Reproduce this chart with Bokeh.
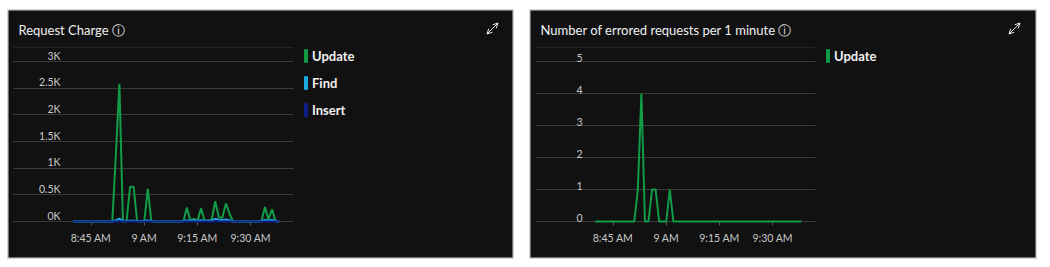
import re
import pandas as pd
from bokeh.plotting import figure
from bokeh.models import (ColumnDataSource, Label, Legend, LegendItem, FixedTicker,
                          Grid, Spacer, Arrow, OpenHead)
from bokeh.layouts import row, column
from bokeh.embed import file_html
from bokeh.resources import INLINE

# ---------------- data ----------------
DAY = "2024-05-14"
times = pd.date_range(f"{DAY} 08:40", f"{DAY} 09:38", freq="1min")  # 59 one-minute buckets

update_ru = [0, 0, 0, 0, 0, 0, 0, 0, 0, 0,        # 8:40-8:49
             0, 0, 1250, 2580, 0, 0, 650, 650, 0, 0,   # 8:50-8:59
             0, 610, 0, 0, 0, 0, 0, 0, 0, 0,      # 9:00-9:09
             0, 0, 260, 20, 50, 10, 250, 10, 20, 30,   # 9:10-9:19
             380, 80, 70, 340, 150, 0, 0, 0, 0, 0,     # 9:20-9:29
             0, 0, 0, 0, 270, 40, 230, 0, 0]           # 9:30-9:38
find_ru = [0, 0, 0, 0, 0, 0, 0, 0, 0, 0,
           0, 0, 20, 55, 10, 12, 15, 15, 10, 10,
           10, 20, 10, 0, 0, 0, 0, 0, 0, 0,
           0, 10, 20, 15, 20, 15, 25, 15, 15, 20,
           50, 35, 25, 40, 20, 0, 0, 0, 0, 0,
           0, 0, 0, 10, 30, 20, 30, 10, 0]
insert_ru = [0, 0, 0, 0, 0, 0, 0, 0, 0, 0,
             0, 0, 0, 0, 0, 0, 0, 0, 0, 0,
             0, 0, 0, 0, 0, 0, 0, 0, 0, 0,
             0, 0, 0, 0, 0, 0, 0, 0, 0, 0,
             0, 0, 0, 0, 0, 0, 0, 0, 0, 0,
             0, 0, 0, 0, 0, 0, 0, 0, 0]
update_errors = [0, 0, 0, 0, 0, 0, 0, 0, 0, 0,
                 0, 0, 1, 4, 0, 0, 1, 1, 0, 0,
                 0, 1, 0, 0, 0, 0, 0, 0, 0, 0,
                 0, 0, 0, 0, 0, 0, 0, 0, 0, 0,
                 0, 0, 0, 0, 0, 0, 0, 0, 0, 0,
                 0, 0, 0, 0, 0, 0, 0, 0, 0]

x_tick_times = ["08:45", "09:00", "09:15", "09:30"]
x_tick_labels = ["8:45 AM", "9 AM", "9:15 AM", "9:30 AM"]

ru_ticks = [0, 500, 1000, 1500, 2000, 2500, 3000]
ru_tick_labels = ["0K", "0.5K", "1K", "1.5K", "2K", "2.5K", "3K"]
err_ticks = [0, 1, 2, 3, 4, 5]
err_tick_labels = ["0", "1", "2", "3", "4", "5"]

ru_series = ["Update", "Find", "Insert"]
err_series = ["Update"]

# ---------------- styles ----------------
GREEN = "#119c47"
BLUE = "#1ba7e0"
NAVY = "#0d1f8a"
PANEL_BG = "#111111"
PAGE_BG = "#1a1a1a"
BORDER = "#d2d2d2"
GRID = "#3a3a3a"
TEXT = "#f0f0f0"
TICK_TEXT = "#c8c8c8"
FONT = "Lato"

H = 250                 # panel height (px)
PX_PER_MIN = 3.55       # horizontal scale
LEFT_TO_845 = 83.5      # px from panel left edge to the 8:45 tick
ZERO_FROM_BOTTOM = 38   # px from panel bottom to the zero line
TOP_TICK_PX = 160       # px between zero line and top tick
TOP_ABOVE = 52          # px between top tick and panel top
GRID_X0, GRID_X1 = 6, 286   # grid extent, px from panel left

NAN = float("nan")


def ms(hhmm):
    return pd.Timestamp(f"{DAY} {hhmm}").value / 1e6


tick_ms = [ms(t) for t in x_tick_times]


def make_panel(width, title, series_cols, series_names, colors, yticks, ylabels, ytop):
    u = ytop / TOP_TICK_PX                      # data units per pixel
    y_start = -ZERO_FROM_BOTTOM * u
    y_end = ytop + TOP_ABOVE * u
    min_ms = 60000 / PX_PER_MIN                 # ms per pixel
    x_start = ms("08:45") - LEFT_TO_845 * min_ms
    x_end = x_start + width * min_ms
    gx = (x_start + GRID_X0 * min_ms, x_start + GRID_X1 * min_ms)

    src = ColumnDataSource(dict(t=times, **series_cols))
    p = figure(width=width, height=H, title=None,
               x_range=(x_start, x_end), y_range=(y_start, y_end),
               x_axis_location=None, y_axis_location=None,
               output_backend="svg", toolbar_location=None,
               min_border=0, min_border_left=0, min_border_right=0,
               min_border_top=0, min_border_bottom=0,
               background_fill_color=PANEL_BG, border_fill_color=PANEL_BG,
               outline_line_color=BORDER, outline_line_width=2)
    p.center = []   # drop the default grids; custom ones are added below

    # horizontal grid lines
    p.add_layout(Grid(dimension=1, ticker=FixedTicker(ticks=yticks), cross_bounds=gx,
                      grid_line_color=GRID, grid_line_width=1))
    # faint top rule of the plot area
    p.add_layout(Grid(dimension=1, ticker=FixedTicker(ticks=[ytop + 14 * u]), cross_bounds=gx,
                      grid_line_color="#242424", grid_line_width=1))
    # small x tick marks under the zero line
    p.add_layout(Grid(dimension=0, ticker=FixedTicker(ticks=tick_ms), cross_bounds=(-4 * u, 0),
                      grid_line_color="#5e5e5e", grid_line_width=1))

    # x tick labels
    for t, lab in zip(tick_ms, x_tick_labels):
        p.add_layout(Label(x=t, y=21.5, x_units="data", y_units="screen", text=lab,
                           text_align="center", text_baseline="middle",
                           text_font=FONT, text_font_size="10.5px", text_color=TICK_TEXT))
    # y tick labels (sitting just above their grid line)
    for v, lab in zip(yticks, ylabels):
        p.add_layout(Label(x=53, y=v, x_units="screen", y_units="data", text=lab,
                           text_align="right", text_baseline="bottom",
                           text_font=FONT, text_font_size="10.5px", text_color=TICK_TEXT))

    # title
    p.add_layout(Label(x=11, y=H - 20.5, x_units="screen", y_units="screen", text=title,
                       text_align="left", text_baseline="middle",
                       text_font=FONT, text_font_size="13px", text_color=TEXT))

    # data lines
    for col, color in zip(series_cols.keys(), colors):
        p.line("t", col, source=src, line_color=color, line_width=2)

    # legend with vertical colour bars (swatch-only renderers, nothing drawn in the plot)
    items = []
    for name, color in zip(series_names, colors):
        r = p.quad(left=[NAN], right=[NAN], top=[NAN], bottom=[NAN],
                   fill_color=color, line_color=None)
        items.append(LegendItem(label=name, renderers=[r]))
    n = len(items)
    leg_h = n * 17 + (n - 1) * 10
    legend = Legend(items=items, location=(296, H - 38.3 - leg_h), orientation="vertical",
                    glyph_width=5, glyph_height=17, label_height=17, label_width=20,
                    spacing=10, padding=0, margin=0, label_standoff=4,
                    background_fill_alpha=0, border_line_alpha=0,
                    label_text_font=FONT, label_text_font_style="bold",
                    label_text_font_size="13px", label_text_color=TEXT)
    p.add_layout(legend, "center")

    # expand icon (diagonal double arrow)
    head = dict(size=5, line_color="#e6e6e6", line_width=1)
    p.add_layout(Arrow(x_start=479.5, y_start=225.5, x_end=490.5, y_end=236.5,
                       start_units="screen", end_units="screen",
                       start=OpenHead(**head), end=OpenHead(**head),
                       line_color="#e6e6e6", line_width=1))
    return p


p1 = make_panel(507, "Request Charge \u24d8",
                {"update": update_ru, "find": find_ru, "insert": insert_ru},
                ru_series, [GREEN, BLUE, NAVY], ru_ticks, ru_tick_labels, 3000)
p2 = make_panel(508, "Number of errored requests per 1 minute \u24d8",
                {"update": update_errors}, err_series, [GREEN],
                err_ticks, err_tick_labels, 5)

layout = column(Spacer(height=9),
                row(Spacer(width=7), p1, Spacer(width=15), p2))

html = file_html(layout, INLINE, title="chart")
html = re.sub(r"<body[^>]*>",
              f'<body style="margin:0;padding:0;background-color:{PAGE_BG};">',
              html, count=1)
open("out.html", "w").write(html)
